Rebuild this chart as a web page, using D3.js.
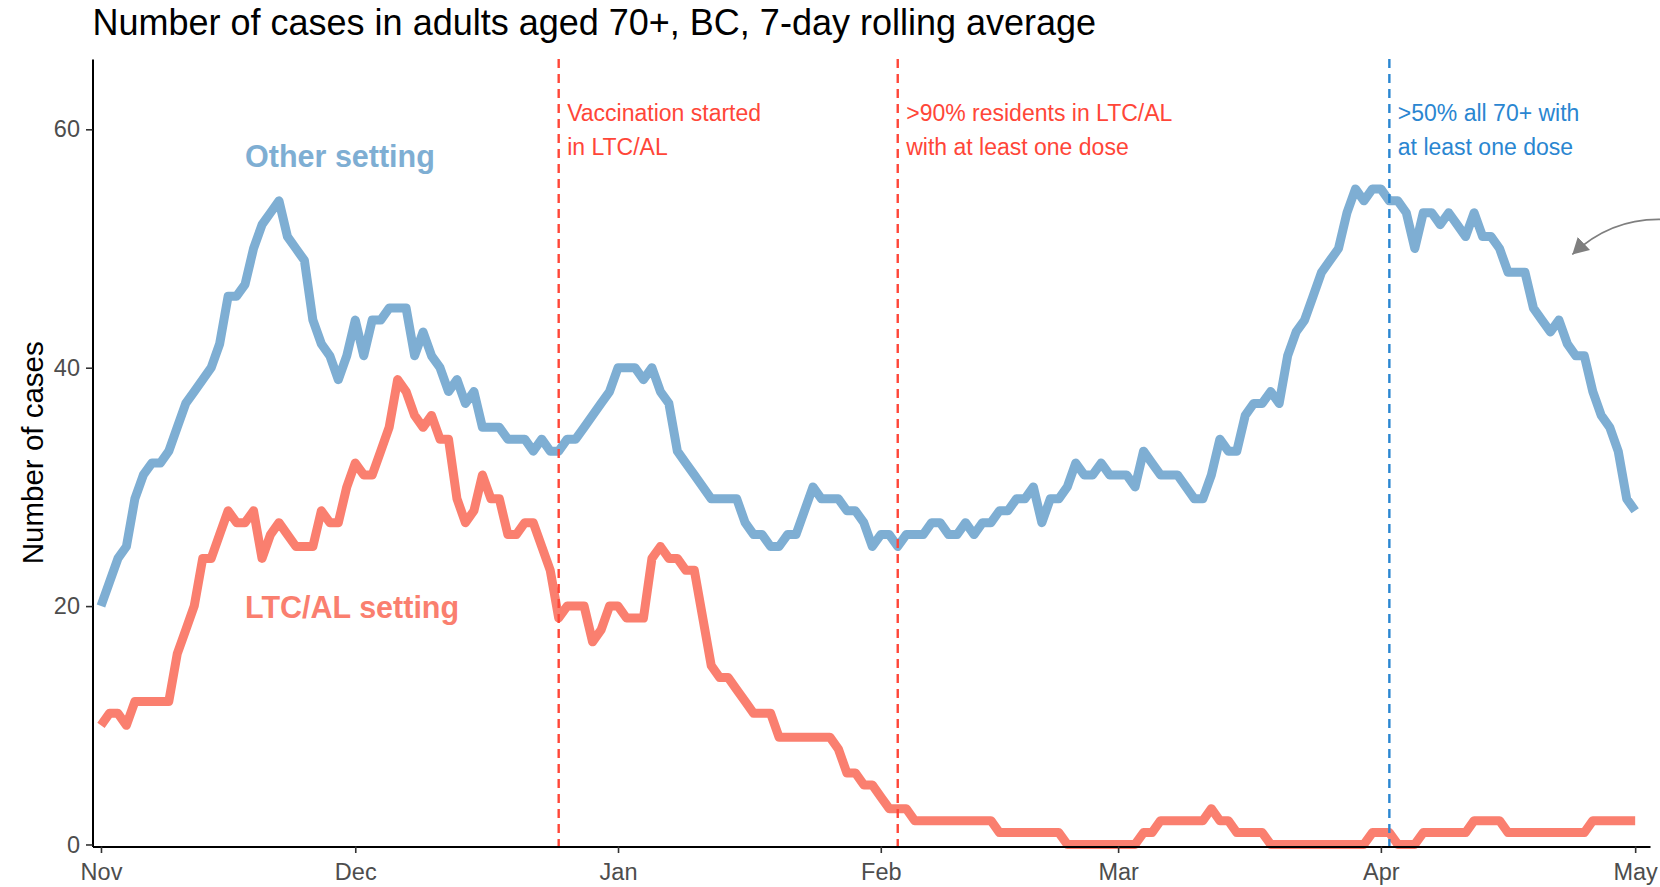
<!DOCTYPE html>
<html>
<head>
<meta charset="utf-8">
<script src="https://cdn.jsdelivr.net/npm/d3@7/dist/d3.min.js"></script>
<style>
  html, body { margin: 0; padding: 0; background: #fff; }
  svg { display: block; font-family: "Liberation Sans", Arial, sans-serif; }
</style>
</head>
<body>
<svg id="chart" width="1660" height="887"></svg>
<script>
// 7-day rolling average of cases in adults aged 70+, one value per day from 1 Nov 2020
const firstDay = '2020-11-01';

const otherSetting = [
  20, 22, 24, 25, 29, 31, 32, 32, 33, 35,
  37, 38, 39, 40, 42, 46, 46, 47, 50, 52,
  53, 54, 51, 50, 49, 44, 42, 41, 39, 41,
  44, 41, 44, 44, 45, 45, 45, 41, 43, 41,
  40, 38, 39, 37, 38, 35, 35, 35, 34, 34,
  34, 33, 34, 33, 33, 34, 34, 35, 36, 37,
  38, 40, 40, 40, 39, 40, 38, 37, 33, 32,
  31, 30, 29, 29, 29, 29, 27, 26, 26, 25,
  25, 26, 26, 28, 30, 29, 29, 29, 28, 28,
  27, 25, 26, 26, 25, 26, 26, 26, 27, 27,
  26, 26, 27, 26, 27, 27, 28, 28, 29, 29,
  30, 27, 29, 29, 30, 32, 31, 31, 32, 31,
  31, 31, 30, 33, 32, 31, 31, 31, 30, 29,
  29, 31, 34, 33, 33, 36, 37, 37, 38, 37,
  41, 43, 44, 46, 48, 49, 50, 53, 55, 54,
  55, 55, 54, 54, 53, 50, 53, 53, 52, 53,
  52, 51, 53, 51, 51, 50, 48, 48, 48, 45,
  44, 43, 44, 42, 41, 41, 38, 36, 35, 33,
  29, 28
];

const ltcSetting = [
  10, 11, 11, 10, 12, 12, 12, 12, 12, 16,
  18, 20, 24, 24, 26, 28, 27, 27, 28, 24,
  26, 27, 26, 25, 25, 25, 28, 27, 27, 30,
  32, 31, 31, 33, 35, 39, 38, 36, 35, 36,
  34, 34, 29, 27, 28, 31, 29, 29, 26, 26,
  27, 27, 25, 23, 19, 20, 20, 20, 17, 18,
  20, 20, 19, 19, 19, 24, 25, 24, 24, 23,
  23, 19, 15, 14, 14, 13, 12, 11, 11, 11,
  9, 9, 9, 9, 9, 9, 9, 8, 6, 6,
  5, 5, 4, 3, 3, 3, 2, 2, 2, 2,
  2, 2, 2, 2, 2, 2, 1, 1, 1, 1,
  1, 1, 1, 1, 0, 0, 0, 0, 0, 0,
  0, 0, 0, 1, 1, 2, 2, 2, 2, 2,
  2, 3, 2, 2, 1, 1, 1, 1, 0, 0,
  0, 0, 0, 0, 0, 0, 0, 0, 0, 0,
  1, 1, 1, 0, 0, 0, 1, 1, 1, 1,
  1, 1, 2, 2, 2, 2, 1, 1, 1, 1,
  1, 1, 1, 1, 1, 1, 2, 2, 2, 2,
  2, 2
];

const seriesNames = ['Other setting', 'LTC/AL setting'];
const yTicks = [0, 20, 40, 60];

const milestoneDates = ['2020-12-25', '2021-02-03', '2021-04-02'];
const milestoneGroups = ['ltc', 'ltc', 'all'];
const milestoneText = [
  ['Vaccination started', 'in LTC/AL'],
  ['>90% residents in LTC/AL', 'with at least one dose'],
  ['>50% all 70+ with', 'at least one dose'],
];

const titleText = 'Number of cases in adults aged 70+, BC, 7-day rolling average';
const yTitle = 'Number of cases';

// ── Styling ──────────────────────────────────────────────────────────────────

const LINE_COLORS = { other: '#7eaed3', ltc: '#fa7f6f' };
const MARK_COLORS = { ltc: '#ff4638', all: '#2a86d1' };

const panel = { left: 92.5, right: 1650, top: 59, bottom: 846.5 };

const parse = d3.utcParse('%Y-%m-%d');
const day0 = parse(firstDay);
const dates = d3.utcDay.range(day0, d3.utcDay.offset(day0, otherSetting.length));
const lastDay = dates[dates.length - 1];

const x = d3.scaleUtc()
  .domain([d3.utcHour.offset(day0, -24), d3.utcHour.offset(lastDay, 42)])
  .range([panel.left, panel.right]);

const y = d3.scaleLinear()
  .domain([-0.17, 65.9])
  .range([panel.bottom, panel.top]);

const svg = d3.select('#chart');

// ── Title ────────────────────────────────────────────────────────────────────

svg.append('text')
  .attr('x', panel.left)
  .attr('y', 35)
  .attr('font-size', 36)
  .attr('fill', '#000')
  .text(titleText);

// ── Series lines ─────────────────────────────────────────────────────────────

const line = d3.line()
  .x((d, i) => x(dates[i]))
  .y(d => y(d));

const series = [
  { key: 'other', values: otherSetting },
  { key: 'ltc',   values: ltcSetting },
];

svg.append('g').attr('class', 'series')
  .selectAll('path')
  .data(series)
  .join('path')
  .attr('d', d => line(d.values))
  .attr('fill', 'none')
  .attr('stroke', d => LINE_COLORS[d.key])
  .attr('stroke-width', 9)
  .attr('stroke-linejoin', 'round')
  .attr('stroke-linecap', 'butt');

// ── Milestone lines + notes ──────────────────────────────────────────────────

const milestones = milestoneDates.map((d, i) => ({
  date: parse(d),
  group: milestoneGroups[i],
  lines: milestoneText[i],
}));

svg.append('g').attr('class', 'milestones')
  .selectAll('line')
  .data(milestones)
  .join('line')
  .attr('x1', d => x(d.date))
  .attr('x2', d => x(d.date))
  .attr('y1', panel.top)
  .attr('y2', panel.bottom)
  .attr('stroke', d => MARK_COLORS[d.group])
  .attr('stroke-width', 2.4)
  .attr('stroke-dasharray', '9,6');

const notes = svg.append('g').attr('class', 'notes')
  .selectAll('text')
  .data(milestones)
  .join('text')
  .attr('x', d => x(d3.utcDay.offset(d.date, 1)))
  .attr('y', 121)
  .attr('font-size', 23)
  .attr('fill', d => MARK_COLORS[d.group]);

notes.selectAll('tspan')
  .data(d => d.lines)
  .join('tspan')
  .attr('x', function () { return this.parentNode.getAttribute('x'); })
  .attr('dy', (d, i) => i === 0 ? 0 : 34)
  .text(d => d);

// ── Series labels ────────────────────────────────────────────────────────────

const labelDate = parse('2020-11-18');
const seriesLabels = [
  { text: seriesNames[0], value: 57.8, color: LINE_COLORS.other },
  { text: seriesNames[1], value: 19.9, color: LINE_COLORS.ltc },
];

svg.append('g').attr('class', 'series-labels')
  .selectAll('text')
  .data(seriesLabels)
  .join('text')
  .attr('x', x(labelDate))
  .attr('y', d => y(d.value))
  .attr('dy', '0.36em')
  .attr('font-size', 30.5)
  .attr('font-weight', 'bold')
  .attr('fill', d => d.color)
  .text(d => d.text);

// ── Axes ─────────────────────────────────────────────────────────────────────

const xAxis = svg.append('g')
  .attr('transform', `translate(0,${panel.bottom})`)
  .call(d3.axisBottom(x)
    .ticks(d3.utcMonth.every(1))
    .tickFormat(d3.utcFormat('%b'))
    .tickSize(6.5)
    .tickSizeOuter(0)
    .tickPadding(10));

const yAxis = svg.append('g')
  .attr('transform', `translate(${panel.left},0)`)
  .call(d3.axisLeft(y)
    .tickValues(yTicks)
    .tickSize(6.5)
    .tickSizeOuter(0)
    .tickPadding(6));

for (const axis of [xAxis, yAxis]) {
  axis.attr('font-size', 23.5).attr('font-family', '"Liberation Sans", Arial, sans-serif');
  axis.select('.domain').attr('stroke', '#000').attr('stroke-width', 2);
  axis.selectAll('.tick line').attr('stroke', '#333').attr('stroke-width', 1.6);
  axis.selectAll('.tick text').attr('fill', '#4d4d4d');
}

svg.append('text')
  .attr('transform', `translate(43,${(panel.top + panel.bottom) / 2}) rotate(-90)`)
  .attr('text-anchor', 'middle')
  .attr('font-size', 29.5)
  .attr('fill', '#000')
  .text(yTitle);

// ── Pointer arrow (enters from the right edge) ───────────────────────────────

svg.append('defs').append('marker')
  .attr('id', 'arrow-head')
  .attr('markerUnits', 'userSpaceOnUse')
  .attr('viewBox', '0 0 16 18')
  .attr('refX', 16)
  .attr('refY', 9)
  .attr('markerWidth', 16)
  .attr('markerHeight', 18)
  .attr('orient', 'auto')
  .append('path')
  .attr('d', 'M0,0L16,9L0,18Z')
  .attr('fill', '#7f7f7f');

const arrowFrom = [d3.utcHour.offset(lastDay, 100), 52.4];
const arrowVia  = [d3.utcHour.offset(lastDay, -60), 52.8];
const arrowTo   = [d3.utcHour.offset(lastDay, -178), 49.5];

svg.append('path')
  .attr('d', `M${x(arrowFrom[0])},${y(arrowFrom[1])}` +
             `Q${x(arrowVia[0])},${y(arrowVia[1])} ${x(arrowTo[0])},${y(arrowTo[1])}`)
  .attr('fill', 'none')
  .attr('stroke', '#7f7f7f')
  .attr('stroke-width', 1.6)
  .attr('marker-end', 'url(#arrow-head)');
</script>
</body>
</html>
